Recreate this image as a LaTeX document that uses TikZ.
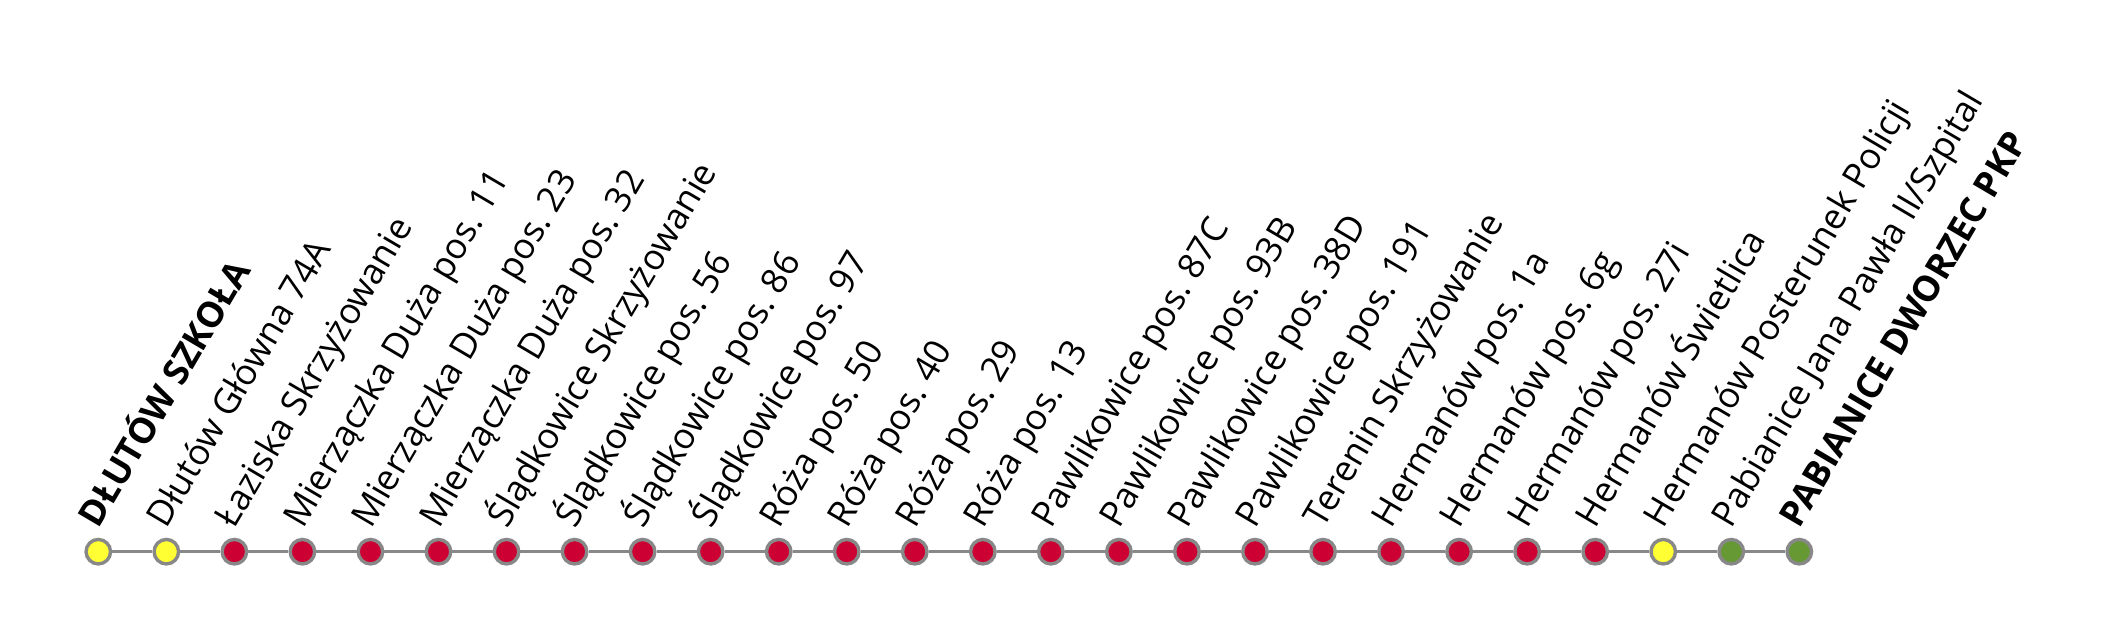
\documentclass[tikz,border=0pt]{standalone}
\usepackage{fontspec}
\setmainfont{Open Sans}
\usetikzlibrary{backgrounds}
\definecolor{stopyellow}{HTML}{FFFF33}
\definecolor{stopred}{HTML}{CC0033}
\definecolor{stopgreen}{HTML}{669933}
\definecolor{linegray}{HTML}{888888}
\newcommand\busstop[4]{% index, colour, label, font weight
  \node[stopdot, fill=#2] (s#1) at ({98.3+68.04*(#1-1)}, 92.3) {};
  \node[stoplbl, font=\fontsize{35.6}{43}\selectfont#4] (l#1) at ({98.3+68.04*(#1-1)+0.5}, 114.3) {#3};
}
\frenchspacing
\begin{document}
\begin{tikzpicture}[x=1pt,y=1pt,
  stopdot/.style={circle, draw=linegray, line width=3.4pt, minimum size=24.5pt, inner sep=0pt},
  stoplbl/.style={anchor=base west, rotate=59.5, inner sep=0pt, text=black},
  track/.style={draw=linegray, line width=3.4pt}]
\useasboundingbox (0,0) rectangle (2114,644);
\busstop{1}{stopyellow}{DŁUTÓW SZKOŁA}{\bfseries}
\busstop{2}{stopyellow}{Dłutów Główna 74A}{}
\busstop{3}{stopred}{Łaziska Skrzyżowanie}{}
\busstop{4}{stopred}{Mierzączka Duża pos. 11}{}
\busstop{5}{stopred}{Mierzączka Duża pos. 23}{}
\busstop{6}{stopred}{Mierzączka Duża pos. 32}{}
\busstop{7}{stopred}{Ślądkowice Skrzyżowanie}{}
\busstop{8}{stopred}{Ślądkowice pos. 56}{}
\busstop{9}{stopred}{Ślądkowice pos. 86}{}
\busstop{10}{stopred}{Ślądkowice pos. 97}{}
\busstop{11}{stopred}{Róża pos. 50}{}
\busstop{12}{stopred}{Róża pos. 40}{}
\busstop{13}{stopred}{Róża pos. 29}{}
\busstop{14}{stopred}{Róża pos. 13}{}
\busstop{15}{stopred}{Pawlikowice pos. 87C}{}
\busstop{16}{stopred}{Pawlikowice pos. 93B}{}
\busstop{17}{stopred}{Pawlikowice pos. 38D}{}
\busstop{18}{stopred}{Pawlikowice pos. 191}{}
\busstop{19}{stopred}{Terenin Skrzyżowanie}{}
\busstop{20}{stopred}{Hermanów pos. 1a}{}
\busstop{21}{stopred}{Hermanów pos. 6g}{}
\busstop{22}{stopred}{Hermanów pos. 27i}{}
\busstop{23}{stopred}{Hermanów Świetlica}{}
\busstop{24}{stopyellow}{Hermanów Posterunek Policji}{}
\busstop{25}{stopgreen}{Pabianice Jana Pawła II/Szpital}{}
\busstop{26}{stopgreen}{PABIANICE DWORZEC PKP}{\bfseries}
\begin{scope}[on background layer]
  \foreach \a [evaluate=\a as \b using int(\a+1)] in {1,...,25}
    \draw[track] (s\a) -- (s\b);
\end{scope}
\end{tikzpicture}
\end{document}
